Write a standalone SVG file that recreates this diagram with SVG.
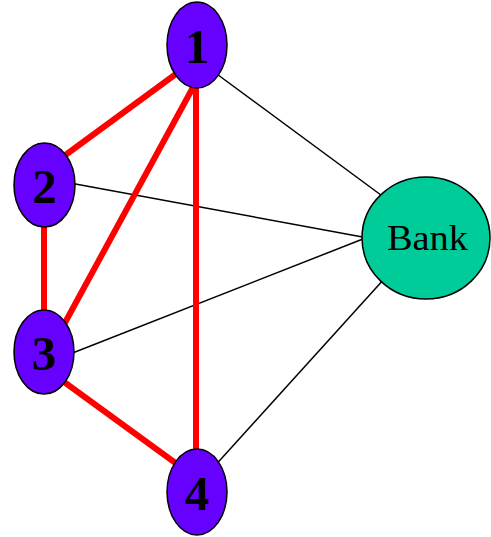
<svg xmlns="http://www.w3.org/2000/svg" width="491" height="537" viewBox="0 0 491 537">
<style>
.red{stroke:#FF0000;stroke-width:6;fill:none}
.thin{stroke:#000;stroke-width:1.5;fill:none}
.node{fill:#6600FF;stroke:#000;stroke-width:1.5}
.bank{fill:#00CC99;stroke:#000;stroke-width:1.5}
.num{font-family:"Liberation Serif",serif;font-weight:bold;font-size:49px;text-anchor:middle;fill:#000}
.lbl{font-family:"Liberation Serif",serif;font-size:35px;text-anchor:middle;fill:#000}
</style>
<rect width="491" height="537" fill="#fff"/>
<g id="connectors">
<line class="thin" x1="210" y1="69" x2="385" y2="198"/>
<line class="thin" x1="70" y1="183" x2="368" y2="238"/>
<line class="thin" x1="70" y1="354" x2="368" y2="237"/>
<line class="thin" x1="212" y1="469" x2="385" y2="278"/>
<line class="red" x1="180" y1="71" x2="60" y2="159"/>
<line class="red" x1="197" y1="80" x2="61" y2="330"/>
<line class="red" x1="196" y1="80" x2="196" y2="455"/>
<line class="red" x1="44" y1="220" x2="44" y2="316"/>
<line class="red" x1="60" y1="379" x2="181" y2="467"/>
</g>
<g id="node1"><ellipse class="node" cx="197" cy="45" rx="30" ry="43"/><text class="num" x="197" y="63">1</text></g>
<g id="node2"><ellipse class="node" cx="44.5" cy="185" rx="30.5" ry="42"/><text class="num" x="44.5" y="203">2</text></g>
<g id="node3"><ellipse class="node" cx="44" cy="352" rx="30" ry="42"/><text class="num" x="44" y="370">3</text></g>
<g id="node4"><ellipse class="node" cx="197" cy="492" rx="30" ry="43"/><text class="num" x="197" y="510">4</text></g>
<g id="bank"><ellipse class="bank" cx="426" cy="238" rx="64" ry="61"/><text class="lbl" x="427.5" y="250" textLength="81" lengthAdjust="spacingAndGlyphs">Bank</text></g>
</svg>
